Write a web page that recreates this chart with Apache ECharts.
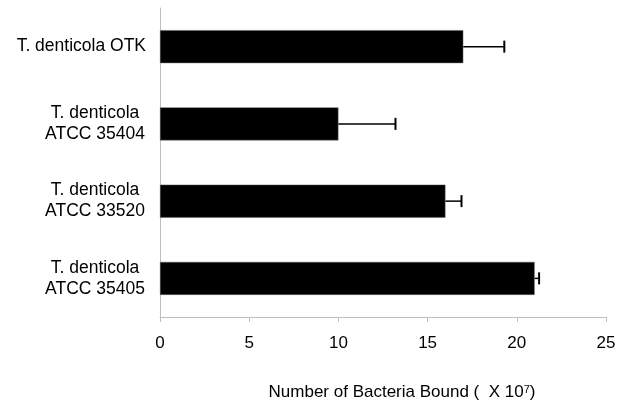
<!DOCTYPE html>
<html>
<head>
<meta charset="utf-8">
<script src="https://cdn.jsdelivr.net/npm/echarts@6/dist/echarts.min.js"></script>
<style>
  html, body { margin: 0; padding: 0; background: #fff; }
  #chart { width: 627px; height: 401px; }
</style>
</head>
<body>
<div id="chart"></div>
<script>
// strains, top to bottom
var strains = ['T. denticola OTK', 'T. denticola\nATCC 35404', 'T. denticola\nATCC 33520', 'T. denticola\nATCC 35405'];
var bound = [17, 10, 16, 21];
var errors = [2.3, 3.2, 0.9, 0.25];
var xTicks = [0, 5, 10, 15, 20, 25];

var myChart = echarts.init(document.getElementById('chart'));

var errData = bound.map(function (v, i) { return [v, v + errors[i], i]; });

var option = {
  animation: false,
  textStyle: { fontFamily: 'Liberation Sans, Arial, sans-serif' },
  grid: { left: 160, right: 21, top: 8, bottom: 84, outerBoundsMode: 'none', containLabel: false },
  xAxis: {
    type: 'value',
    min: xTicks[0],
    max: xTicks[xTicks.length - 1],
    interval: 5,
    axisLine: { show: true, lineStyle: { color: '#bfbfbf', width: 1 } },
    axisTick: { show: true, length: 5, lineStyle: { color: '#bfbfbf' } },
    splitLine: { show: false },
    axisLabel: { color: '#000', fontSize: 17, margin: 18 },
    name: '{t|Number of Bacteria Bound (  X 10}{s|7}{t|)}',
    nameLocation: 'middle',
    nameGap: 67,
    nameTextStyle: {
      padding: [0, 0, 0, 38],
      rich: {
        t: { fontSize: 17, color: '#000', fontFamily: 'Liberation Sans, Arial, sans-serif' },
        s: { fontSize: 11, color: '#000', verticalAlign: 'top', padding: [0, 0, 6, 0], fontFamily: 'Liberation Sans, Arial, sans-serif' }
      }
    }
  },
  yAxis: {
    type: 'category',
    data: strains,
    inverse: true,
    axisLine: { show: true, lineStyle: { color: '#bfbfbf', width: 1 } },
    axisTick: { show: false },
    axisLabel: {
      color: '#000',
      margin: 14,
      formatter: function (val) {
        var parts = val.split('\n');
        if (parts.length === 1) return '{a|' + val + '}';
        return parts.map(function (p) { return '{c|' + p + '}'; }).join('\n');
      },
      rich: {
        a: { fontSize: 17.5, lineHeight: 21, color: '#000' },
        c: { fontSize: 17.5, lineHeight: 21, color: '#000', width: 102, align: 'center' }
      }
    }
  },
  series: [
    {
      type: 'bar',
      data: bound,
      barWidth: 33,
      itemStyle: { color: '#000', borderColor: '#666', borderWidth: 0.5 }
    },
    {
      type: 'custom',
      data: errData,
      encode: { x: [0, 1], y: 2 },
      z: 3,
      renderItem: function (params, api) {
        var cat = api.value(2);
        var p0 = api.coord([api.value(0), cat]);
        var p1 = api.coord([api.value(1), cat]);
        var h = 6;
        return {
          type: 'group',
          children: [
            { type: 'line', shape: { x1: p0[0], y1: p0[1], x2: p1[0], y2: p1[1] }, style: { stroke: '#000', lineWidth: 1.5 } },
            { type: 'line', shape: { x1: p1[0], y1: p1[1] - h, x2: p1[0], y2: p1[1] + h }, style: { stroke: '#000', lineWidth: 2 } }
          ]
        };
      }
    }
  ]
};

myChart.setOption(option);
</script>
</body>
</html>
